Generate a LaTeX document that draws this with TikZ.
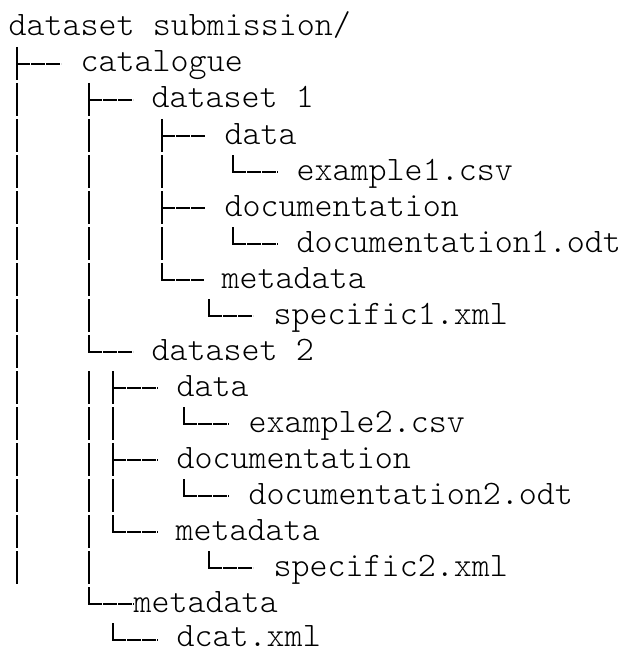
\documentclass[tikz,border=0pt]{standalone}
\usepackage{fontspec}
\begin{document}
\begin{tikzpicture}[x=1pt,y=1pt,
  treeline/.style={line width=2pt, black, line cap=butt},
  dashrule/.style={dash pattern=on 14.2pt off 0.8pt},
  lbl/.style={anchor=base west, inner sep=0pt, text depth=0pt,
    font=\ttfamily\fontseries{l}\fontsize{34.3}{36}\selectfont}]
% page frame
\useasboundingbox (0,0) rectangle (622,-650);
% rows are 36pt apart; row n sits on baseline y = -36n
% a straight pipe through one row
\newcommand\pipeat[2]{\draw[treeline] (#1,{-36*#2+25}) -- (#1,{-36*#2-8});}
% a branch: pipe through the row with a rule going right
\newcommand\branchat[3]{\pipeat{#1}{#2}\draw[treeline,dashrule] (#1-1,{-36*#2+8}) -- ++(#3+1,0);}
% a last branch: half pipe ending in a rule going right
\newcommand\lastat[3]{\draw[treeline] (#1,{-36*#2+25}) -- (#1,{-36*#2+7});\draw[treeline,dashrule] (#1-1,{-36*#2+8}) -- ++(#3+1,0);}

% labels
\node[lbl] (root)  at (8.5,-36)   {dataset submission/};
\node[lbl] (cat)   at (80.5,-72)  {catalogue};
\node[lbl] (ds1)   at (151.5,-108) {dataset 1};
\node[lbl] (d1)    at (224.5,-144) {data};
\node[lbl] (ex1)   at (296.5,-180) {example1.csv};
\node[lbl] (doc1)  at (224.5,-216) {documentation};
\node[lbl] (docf1) at (296.5,-252) {documentation1.odt};
\node[lbl] (md1)   at (221.5,-288) {metadata};
\node[lbl] (sp1)   at (273.5,-324) {specific1.xml};
\node[lbl] (ds2)   at (151.5,-360) {dataset 2};
\node[lbl] (d2)    at (176.5,-396) {data};
\node[lbl] (ex2)   at (248.5,-432) {example2.csv};
\node[lbl] (doc2)  at (176.5,-468) {documentation};
\node[lbl] (docf2) at (248.5,-504) {documentation2.odt};
\node[lbl] (md2)   at (175.5,-540) {metadata};
\node[lbl] (sp2)   at (273.5,-576) {specific2.xml};
\node[lbl] (mdc)   at (133.5,-612) {metadata};
\node[lbl] (dcat)  at (176.5,-646) {dcat.xml};

% tree rules, row by row
\branchat{17}{2}{44}
\pipeat{17}{3}\branchat{89}{3}{44}
\pipeat{17}{4}\pipeat{89}{4}\branchat{162}{4}{43}
\pipeat{17}{5}\pipeat{89}{5}\pipeat{162}{5}\lastat{233}{5}{45}
\pipeat{17}{6}\pipeat{89}{6}\branchat{162}{6}{43}
\pipeat{17}{7}\pipeat{89}{7}\pipeat{162}{7}\lastat{233}{7}{45}
\pipeat{17}{8}\pipeat{89}{8}\lastat{162}{8}{42}
\pipeat{17}{9}\pipeat{89}{9}\lastat{209}{9}{44}
\pipeat{17}{10}\lastat{89}{10}{44}
\pipeat{17}{11}\pipeat{89}{11}\branchat{113}{11}{45}
\pipeat{17}{12}\pipeat{89}{12}\pipeat{113}{12}\lastat{184}{12}{45}
\pipeat{17}{13}\pipeat{89}{13}\branchat{113}{13}{45}
\pipeat{17}{14}\pipeat{89}{14}\pipeat{113}{14}\lastat{184}{14}{45}
\pipeat{17}{15}\pipeat{89}{15}\lastat{113}{15}{45}
\pipeat{17}{16}\pipeat{89}{16}\lastat{209}{16}{44}
\lastat{89}{17}{45}
\lastat{113}{18}{45}
\end{tikzpicture}
\end{document}
